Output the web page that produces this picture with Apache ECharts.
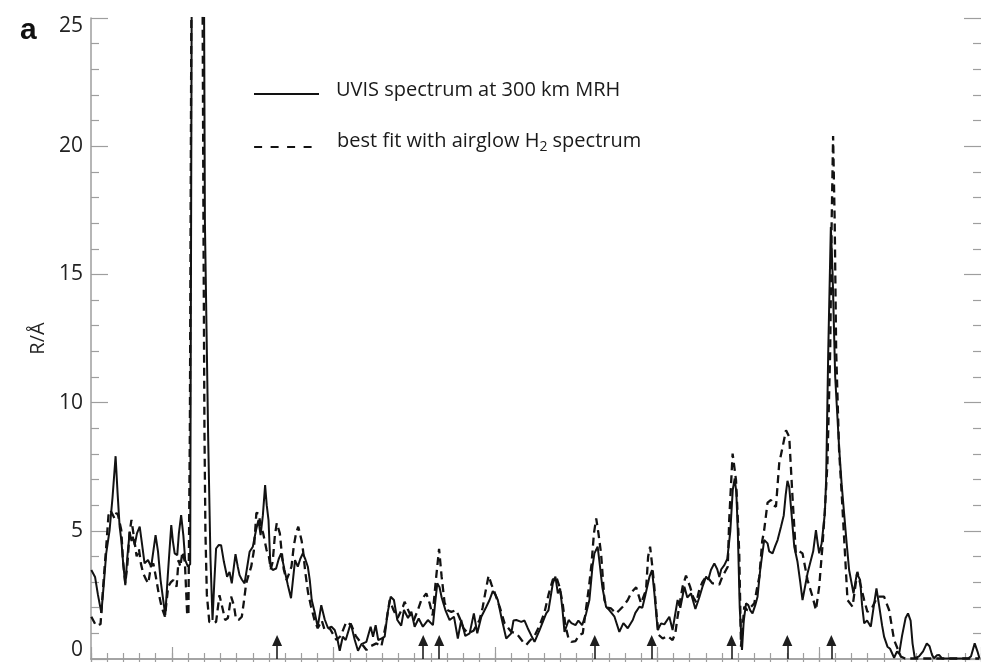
<!DOCTYPE html>
<html>
<head>
<meta charset="utf-8">
<script src="https://cdn.jsdelivr.net/npm/echarts@6/dist/echarts.min.js"></script>
<style>
  html, body { margin: 0; padding: 0; background: #ffffff; }
  #chart { width: 981px; height: 662px; }
</style>
</head>
<body>
<div id="chart"></div>
<script>
// Observed UVIS brightness (R/Å) against spectral position
const uvisSpectrum = [
  [0.02,3.47],[0.25,3.2],[0.43,2.5],[0.64,1.8],[0.80,3.0],[0.94,4.12],[1.15,5.03],[1.33,6.3],[1.52,7.91],[1.64,6.5],
  [1.77,5.16],[1.88,4.6],[1.98,3.8],[2.12,2.88],[2.25,4.0],[2.39,4.96],[2.50,4.6],[2.59,4.77],[2.70,4.44],[2.84,4.9],
  [3.01,5.16],[3.15,4.5],[3.31,3.73],[3.52,3.86],[3.72,3.6],[3.99,4.83],[4.14,4.2],[4.30,3.08],[4.44,2.4],[4.59,1.71],
  [4.75,3.3],[4.96,5.22],[5.06,4.6],[5.17,4.12],[5.33,4.05],[5.43,4.9],[5.57,5.61],[5.71,4.8],[5.82,3.86],[5.99,3.6],
  [6.13,3.7],[6.22,25],[6.27,32],[6.94,32],[6.99,25],[7.04,17],[7.24,8.66],[7.38,4.0],[7.51,1.52],[7.62,3.0],
  [7.73,4.31],[7.90,4.45],[8.04,4.44],[8.21,3.8],[8.41,3.21],[8.56,3.4],[8.70,2.95],[8.83,3.6],[8.93,4.09],[9.07,3.6],
  [9.18,3.27],[9.32,3.1],[9.49,2.95],[9.63,3.5],[9.80,4.18],[10.00,4.38],[10.20,5.03],[10.35,5.42],[10.48,4.83],[10.62,5.6],
  [10.76,6.78],[10.86,6.0],[10.97,5.42],[11.09,3.6],[11.23,3.47],[11.44,3.53],[11.60,3.9],[11.75,4.12],[11.96,3.47],[12.16,2.9],
  [12.36,2.37],[12.50,3.2],[12.61,3.86],[12.78,3.6],[12.93,3.9],[13.09,4.12],[13.24,3.9],[13.40,3.6],[13.52,3.08],[13.64,2.3],
  [13.83,1.8],[14.01,1.25],[14.23,2.1],[14.44,1.55],[14.65,1.2],[14.86,1.26],[15.06,1.13],[15.22,0.8],[15.37,0.32],[15.56,0.87],
  [15.74,0.74],[16.05,1.39],[16.30,0.74],[16.50,0.32],[16.71,0.58],[17.02,0.67],[17.28,1.26],[17.43,0.87],[17.59,1.32],[17.75,0.74],
  [17.96,0.8],[18.15,0.87],[18.33,1.8],[18.52,2.43],[18.72,2.3],[18.93,1.52],[19.17,1.3],[19.34,1.91],[19.59,1.6],[19.80,1.84],
  [20.00,1.26],[20.25,1.58],[20.51,1.26],[20.82,1.52],[21.13,1.32],[21.27,2.2],[21.40,2.95],[21.54,2.8],[21.67,2.4],[21.90,1.91],
  [22.16,1.52],[22.43,1.65],[22.67,0.8],[22.88,1.52],[23.13,0.9],[23.40,1.0],[23.66,1.78],[23.87,1.0],[24.12,1.65],[24.43,2.04],
  [24.63,2.3],[24.83,2.65],[25.00,2.5],[25.14,2.3],[25.37,1.6],[25.66,0.8],[25.97,1.0],[26.11,1.5],[26.28,1.52],[26.59,1.45],
  [26.79,1.5],[26.99,1.2],[27.22,0.9],[27.41,0.67],[27.72,1.13],[28.13,1.78],[28.27,1.9],[28.54,2.95],[28.70,3.21],[28.85,2.56],
  [28.99,2.75],[29.14,1.9],[29.26,1.06],[29.52,1.52],[29.69,1.4],[29.94,1.32],[30.12,1.5],[30.35,1.32],[30.60,1.78],[30.80,2.3],
  [30.99,3.6],[31.11,4.12],[31.31,4.38],[31.42,3.8],[31.60,2.8],[31.83,2.04],[32.04,1.9],[32.35,1.65],[32.65,1.06],[32.90,1.4],
  [33.17,1.2],[33.48,1.52],[33.64,1.8],[33.89,2.04],[34.07,2.0],[34.26,2.5],[34.51,3.2],[34.67,3.47],[34.81,2.6],[35.02,1.13],
  [35.23,1.39],[35.43,1.35],[35.74,1.65],[35.94,1.13],[36.25,2.3],[36.42,2.0],[36.67,2.82],[36.85,2.4],[37.08,2.56],[37.35,1.95],
  [37.59,2.4],[37.78,2.8],[38.01,3.21],[38.15,3.1],[38.31,3.47],[38.52,3.73],[38.70,3.5],[38.83,3.2],[38.95,3.5],[39.14,3.66],
  [39.32,3.9],[39.51,5.0],[39.66,6.6],[39.78,7.04],[39.88,6.5],[39.97,5.0],[40.09,2.0],[40.23,0.35],[40.34,1.5],[40.48,2.17],
  [40.62,2.1],[40.74,1.9],[40.88,1.78],[41.05,2.1],[41.19,2.43],[41.36,3.5],[41.60,4.64],[41.81,4.51],[41.91,4.2],[42.12,4.12],
  [42.28,4.4],[42.43,4.64],[42.64,5.16],[42.81,5.6],[42.93,6.4],[43.04,6.95],[43.15,6.7],[43.30,5.6],[43.46,4.38],[43.66,3.79],
  [43.83,3.0],[43.97,2.3],[44.07,2.3],[44.28,3.34],[44.49,3.86],[44.63,4.2],[44.80,5.03],[44.91,4.5],[45.00,4.12],[45.15,4.5],
  [45.35,5.68],[45.43,7.0],[45.56,12.0],[45.72,16.85],[45.83,15.0],[45.99,11.0],[46.23,8.27],[46.39,6.8],[46.54,5.68],[46.70,4.5],
  [46.85,3.47],[47.12,2.56],[47.33,3.34],[47.53,3.08],[47.65,2.1],[47.78,1.39],[47.96,1.5],[48.19,1.26],[48.36,2.0],[48.54,2.75],
  [48.70,2.1],[48.89,1.3],[49.01,0.87],[49.22,0.48],[49.38,0.4],[49.63,0.05],[49.81,0.3],[49.94,0.2],[50.12,0.9],[50.34,1.6],
  [50.49,1.78],[50.65,1.5],[50.77,0.6],[50.91,0.03],[51.17,0.1],[51.42,0.3],[51.65,0.61],[51.82,0.5],[51.98,0.15],[52.10,0.03],
  [52.28,0.15],[52.41,0.16],[52.59,0.02],[54.20,0.02],[54.38,0.1],[54.61,0.61],[54.78,0.3],[54.91,0.02]
];

// Best-fit synthetic H2 airglow spectrum (R/Å)
const airglowFit = [
  [0.02,1.65],[0.31,1.3],[0.59,1.36],[0.77,3.0],[0.94,4.38],[1.08,5.6],[1.20,5.8],[1.30,5.81],[1.46,5.48],[1.57,5.7],
  [1.67,5.61],[1.87,5.03],[1.98,3.8],[2.12,2.95],[2.25,3.7],[2.38,4.9],[2.50,5.42],[2.62,4.9],[2.82,4.0],[2.96,4.3],
  [3.09,3.7],[3.23,3.34],[3.40,3.1],[3.54,2.95],[3.70,3.6],[3.85,3.73],[4.01,3.2],[4.17,2.6],[4.36,2.04],[4.57,1.65],
  [4.77,2.82],[4.94,3.0],[5.08,3.08],[5.29,2.82],[5.41,3.86],[5.52,3.6],[5.65,4.18],[5.80,3.8],[5.94,1.78],[6.02,1.7],
  [6.11,9.0],[6.20,25],[6.27,32],[6.85,32],[6.90,25],[6.95,17],[7.01,9.0],[7.07,5.0],[7.16,2.5],[7.31,1.45],
  [7.53,1.4],[7.73,1.45],[7.94,2.49],[8.12,2.0],[8.29,1.52],[8.46,1.6],[8.66,2.43],[8.83,2.1],[8.95,1.6],[9.12,1.52],
  [9.32,1.65],[9.44,2.2],[9.59,2.95],[9.75,3.3],[9.90,3.6],[10.06,4.2],[10.22,5.7],[10.35,5.68],[10.51,5.16],[10.64,4.9],
  [10.85,4.25],[10.99,4.0],[11.11,3.5],[11.23,3.8],[11.36,4.8],[11.48,5.3],[11.57,5.35],[11.67,4.9],[11.77,4.25],[11.91,3.5],
  [12.08,3.08],[12.22,3.3],[12.39,3.6],[12.53,4.4],[12.67,4.9],[12.81,5.16],[12.90,5.16],[13.02,4.6],[13.10,4.25],[13.24,3.4],
  [13.41,2.6],[13.58,2.1],[13.81,1.52],[14.01,1.2],[14.26,1.5],[14.44,1.13],[14.75,1.2],[15.17,0.74],[15.43,0.9],[15.78,1.45],
  [16.09,1.32],[16.36,0.9],[16.71,0.61],[17.02,0.35],[17.28,0.5],[17.64,0.61],[17.94,0.48],[18.21,1.3],[18.46,2.3],[18.70,1.9],
  [18.95,1.6],[19.28,2.04],[19.38,2.23],[19.69,1.78],[19.94,1.5],[20.20,1.91],[20.41,2.3],[20.72,2.56],[20.93,2.17],[21.11,1.7],
  [21.30,3.0],[21.51,4.3],[21.67,3.2],[21.85,2.2],[22.04,1.9],[22.27,1.84],[22.57,1.91],[22.78,1.6],[23.02,1.2],[23.29,1.0],
  [23.64,1.1],[24.01,1.52],[24.20,2.0],[24.36,2.56],[24.57,3.25],[24.75,2.9],[24.94,2.6],[25.25,2.04],[25.56,1.39],[25.97,1.06],
  [26.28,1.0],[26.48,0.85],[26.69,0.67],[26.90,0.55],[27.10,0.7],[27.41,0.9],[27.72,1.3],[28.02,1.8],[28.27,2.5],[28.54,3.1],
  [28.75,3.21],[28.95,2.82],[29.14,2.2],[29.32,1.3],[29.51,0.8],[29.69,0.67],[29.94,0.7],[30.19,0.94],[30.39,1.0],[30.60,2.0],
  [30.77,2.8],[30.93,3.7],[31.08,4.9],[31.22,5.48],[31.36,4.9],[31.52,4.12],[31.73,2.3],[31.91,2.0],[32.14,1.97],[32.45,1.78],
  [32.65,1.9],[32.86,2.04],[33.17,2.3],[33.40,2.6],[33.69,2.8],[33.99,2.17],[34.30,2.69],[34.43,4.0],[34.55,4.38],[34.69,3.6],
  [34.81,2.82],[34.97,1.6],[35.08,0.94],[35.33,0.8],[35.62,0.9],[35.94,0.74],[36.11,1.0],[36.25,1.65],[36.42,2.3],[36.56,2.82],
  [36.77,3.25],[37.02,2.82],[37.22,2.4],[37.41,2.2],[37.59,2.7],[37.78,3.0],[38.01,3.21],[38.21,3.1],[38.40,2.95],[38.62,2.95],
  [38.83,2.9],[39.01,3.2],[39.24,3.47],[39.35,3.6],[39.44,5.42],[39.65,8.01],[39.86,6.98],[39.97,5.5],[40.06,4.12],[40.17,0.48],
  [40.37,2.04],[40.56,1.9],[40.74,2.0],[40.99,2.17],[41.17,2.8],[41.30,3.21],[41.48,4.6],[41.60,5.03],[41.81,6.1],[42.02,6.2],
  [42.16,6.0],[42.33,5.94],[42.53,7.63],[42.74,8.27],[42.95,8.92],[43.15,8.66],[43.35,6.33],[43.56,4.12],[43.77,4.2],[43.97,4.12],
  [44.28,3.08],[44.59,2.43],[44.80,1.91],[45.00,2.82],[45.20,4.38],[45.37,6.0],[45.51,7.63],[45.68,12.0],[45.77,17.0],[45.86,20.4],
  [45.96,17.0],[46.05,12.0],[46.23,8.14],[46.40,6.33],[46.65,3.47],[46.75,2.3],[47.06,2.04],[47.36,3.4],[47.59,2.8],[47.78,2.3],
  [47.98,1.84],[48.27,2.0],[48.60,2.43],[49.01,2.43],[49.32,1.91],[49.63,0.74],[50.04,0.1],[50.31,0.02],[54.88,0.02]
];

// Positions of the marked emission features
const featureMarks = [11.50, 20.53, 21.52, 31.13, 34.65, 39.58, 43.03, 45.75];

const seriesNames = ['UVIS spectrum at 300 km MRH', 'best fit with airglow H2 spectrum'];
const xRange = [0, 55];
const yRange = [0, 25];

const AXIS_GRAY = '#9e9e9e';
const INK = '#121212';
const FONT = 'Open Sans';

// Frame axes along the top and bottom: fine ticks every unit, long ticks every ten
function frameXAxis(position, longTicks) {
  return {
    type: 'value',
    position: position,
    min: xRange[0],
    max: xRange[1],
    interval: longTicks ? 10 : 1,
    inverse: !!longTicks,
    axisLine: { show: !longTicks, lineStyle: { color: AXIS_GRAY, width: 1.5 } },
    axisTick: { show: true, inside: true, length: longTicks ? 12 : 6, lineStyle: { color: AXIS_GRAY, width: 1.2 } },
    axisLabel: { show: false },
    splitLine: { show: false }
  };
}

function frameYAxis(position, withLabels) {
  const base = { fontSize: 21, fontFamily: FONT, color: '#222' };
  return {
    type: 'value',
    position: position,
    min: yRange[0],
    max: yRange[1],
    interval: 5,
    axisLine: { show: withLabels, lineStyle: { color: AXIS_GRAY, width: 1.5 } },
    axisTick: { show: true, inside: true, length: 17, lineStyle: { color: AXIS_GRAY, width: 1.2 } },
    minorTick: { show: true, splitNumber: 5, length: 8, lineStyle: { color: AXIS_GRAY, width: 1.2 } },
    minorSplitLine: { show: false },
    splitLine: { show: false },
    axisLabel: {
      show: withLabels,
      margin: 8,
      formatter: function (v) {
        if (v === yRange[1]) return '{hi|' + v + '}';
        if (v === yRange[0]) return '{lo|' + v + '}';
        return '{n|' + v + '}';
      },
      rich: {
        n: base,
        hi: Object.assign({ padding: [16, 0, 0, 0] }, base),
        lo: Object.assign({ padding: [0, 0, 18, 0] }, base)
      }
    },
    name: withLabels ? 'R/Å' : '',
    nameLocation: 'middle',
    nameGap: 43,
    nameRotate: 90,
    nameTextStyle: { fontSize: 20, fontFamily: FONT, color: '#222' }
  };
}

const legendMain = { fontSize: 20, fontFamily: FONT, color: '#1a1a1a', lineHeight: 26 };
const legendSub = { fontSize: 14, fontFamily: FONT, color: '#1a1a1a', lineHeight: 8, verticalAlign: 'bottom' };

function legendBlock(name, top, iconWidth, iconLine, textPadding, formatter) {
  return {
    data: [name],
    orient: 'vertical',
    left: 253,
    top: top,
    padding: 0,
    itemWidth: iconWidth,
    itemHeight: 40,
    selectedMode: false,
    itemStyle: { color: 'rgba(0,0,0,0)', borderWidth: 0, opacity: 0 },
    lineStyle: iconLine,
    formatter: formatter,
    textStyle: {
      padding: textPadding,
      fontSize: 20, fontFamily: FONT, color: '#1a1a1a',
      rich: { m: legendMain, s: legendSub }
    }
  };
}

const option = {
  backgroundColor: '#ffffff',
  animation: false,
  title: {
    text: 'a',
    left: 20,
    top: 16,
    padding: 0,
    textStyle: { fontSize: 30, fontWeight: 'bold', fontFamily: 'Liberation Sans', color: '#111' }
  },
  legend: [
    legendBlock(seriesNames[0], 78, 65, { color: INK, width: 2, type: 'solid' }, [0, 0, 7, 12], function () {
      return '{m|UVIS spectrum at 300 km MRH}';
    }),
    legendBlock(seriesNames[1], 131, 58, { color: INK, width: 2.2, type: [8, 8.5] }, [0, 0, 12, 20], function () {
      return '{m|best fit with airglow H}{s|2}{m| spectrum}';
    })
  ],
  grid: { left: 91, top: 18, width: 892, height: 641, containLabel: false },
  xAxis: [
    frameXAxis('top', false),
    frameXAxis('top', true),
    frameXAxis('bottom', false),
    frameXAxis('bottom', true)
  ],
  yAxis: [
    frameYAxis('left', true),
    frameYAxis('right', false)
  ],
  series: [
    {
      name: seriesNames[0],
      type: 'line',
      xAxisIndex: 0,
      yAxisIndex: 0,
      data: uvisSpectrum,
      symbol: 'none',
      showSymbol: false,
      clip: true,
      lineStyle: { color: INK, width: 2, type: 'solid' },
      itemStyle: { color: INK },
      emphasis: { disabled: true },
      markLine: {
        silent: true,
        animation: false,
        symbol: ['none', 'triangle'],
        symbolSize: [10, 11],
        label: { show: false },
        emphasis: { disabled: true },
        lineStyle: { color: '#1e1e1e', width: 1.6, type: 'solid', opacity: 1 },
        itemStyle: { color: '#000' },
        data: featureMarks.map(function (x) {
          return [{ coord: [x, yRange[0]] }, { coord: [x, 0.72] }];
        })
      }
    },
    {
      name: seriesNames[1],
      type: 'line',
      xAxisIndex: 0,
      yAxisIndex: 0,
      data: airglowFit,
      symbol: 'none',
      showSymbol: false,
      clip: true,
      lineStyle: { color: INK, width: 2.3, type: [8, 5] },
      itemStyle: { color: INK },
      emphasis: { disabled: true }
    }
  ]
};

const chart = echarts.init(document.getElementById('chart'), null, { renderer: 'canvas' });
chart.setOption(option);
</script>
</body>
</html>
